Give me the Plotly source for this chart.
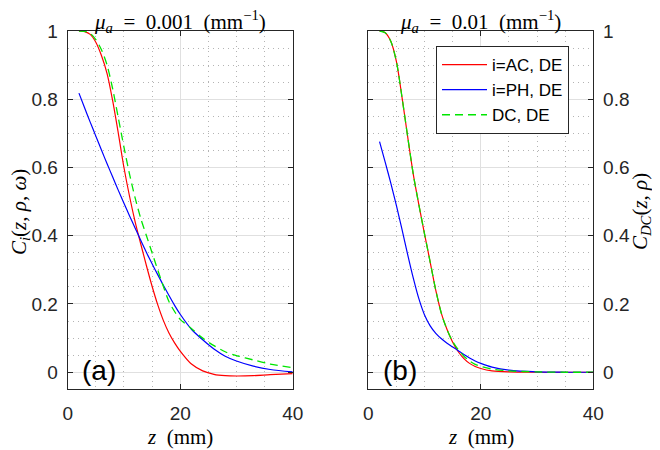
import plotly.graph_objects as go

# depth z (mm) and normalised contrasts
# panel (a): mu_a = 0.001 mm^-1
z_a = [2, 3, 4, 5, 6, 7, 8, 9, 10, 11, 12, 13, 14, 15, 16, 17, 18, 19, 20,
       22, 24, 26, 28, 30, 33, 36, 40]
ac_a = [1.0, 0.998, 0.990, 0.967, 0.928, 0.875, 0.795, 0.700, 0.600, 0.515,
        0.440, 0.375, 0.312, 0.252, 0.198, 0.152, 0.115, 0.086, 0.062,
        0.024, 0.004, -0.006, -0.010, -0.011, -0.010, -0.007, -0.004]
ph_a = [0.818, 0.775, 0.733, 0.692, 0.651, 0.611, 0.572, 0.533, 0.495, 0.458,
        0.422, 0.386, 0.351, 0.318, 0.286, 0.255, 0.225, 0.196, 0.170,
        0.126, 0.095, 0.068, 0.047, 0.033, 0.018, 0.008, 0.001]
dc_a = [1.0, 0.999, 0.993, 0.975, 0.945, 0.900, 0.830, 0.745, 0.660, 0.580,
        0.510, 0.450, 0.400, 0.350, 0.300, 0.252, 0.207, 0.178, 0.155,
        0.128, 0.100, 0.078, 0.060, 0.049, 0.036, 0.024, 0.013]

# panel (b): mu_a = 0.01 mm^-1
z_b = [2, 3, 4, 5, 6, 7, 8, 9, 10, 11, 12, 13, 14, 15, 16, 17, 18, 19, 20,
       22, 25, 30, 35, 40]
ac_b = [1.0, 0.995, 0.970, 0.910, 0.805, 0.690, 0.580, 0.490, 0.405, 0.323,
        0.240, 0.172, 0.125, 0.088, 0.060, 0.040, 0.026, 0.017, 0.011,
        0.004, 0.001, 0.0, 0.0, 0.0]
ph_b = [0.676, 0.616, 0.554, 0.488, 0.418, 0.345, 0.276, 0.215, 0.168, 0.136,
        0.114, 0.098, 0.085, 0.074, 0.063, 0.052, 0.042, 0.033, 0.026,
        0.015, 0.006, 0.001, 0.0, 0.0]
dc_b = [1.0, 0.995, 0.970, 0.910, 0.805, 0.690, 0.580, 0.490, 0.405, 0.323,
        0.240, 0.172, 0.125, 0.090, 0.066, 0.047, 0.033, 0.023, 0.017,
        0.009, 0.004, 0.001, 0.0, 0.0]

names = ["i=AC, DE", "i=PH, DE", "DC, DE"]
x_ticks = [0, 20, 40]
y_ticks = [0, 0.2, 0.4, 0.6, 0.8, 1]
y_tick_text = ["0", "0.2", "0.4", "0.6", "0.8", "1"]

# the page body has an 8px default margin, so the figure is drawn 8px in
OFF = 8
W, H = 660 - OFF, 450 - OFF
SANS = "Liberation Sans, Arial, sans-serif"
SERIF = "Liberation Serif, Times New Roman, serif"
AX = "#262626"
SP = "\u2002"


def fx(px):
    return (px - OFF) / W


def fy(py):
    return 1 - (py - OFF) / H


fig = go.Figure()

styles = [
    dict(color="#ff0000", width=1.2),
    dict(color="#0000ff", width=1.2),
    dict(color="#00e600", width=1.3, dash="8px,5px"),
]

for xa, ya, z, series, show in [("x", "y", z_a, [ac_a, ph_a, dc_a], False),
                                ("x2", "y2", z_b, [ac_b, ph_b, dc_b], True)]:
    for name, vals, st in zip(names, series, styles):
        fig.add_trace(go.Scatter(
            x=z, y=vals, mode="lines", name=name, xaxis=xa, yaxis=ya,
            line=dict(shape="spline", smoothing=0.8, **st),
            showlegend=show,
        ))


def xax(domain, anchor):
    return dict(
        domain=domain, anchor=anchor, range=[0, 40], automargin=False,
        tickvals=x_ticks, ticks="inside", ticklen=5, tickcolor=AX,
        showline=True, linecolor=AX, linewidth=1, mirror="ticks",
        showgrid=True, gridcolor="#e0e0e0", zeroline=False,
        minor=dict(dtick=5, tick0=0, showgrid=True, gridcolor="#b4b4b4",
                   griddash="1px,4px", gridwidth=1),
        tickfont=dict(family=SANS, size=19, color=AX),
        ticklabelstandoff=7,
    )


def yax(anchor, side):
    return dict(
        domain=[fy(389.3), fy(31)], anchor=anchor, side=side,
        range=[-0.05, 1], tickvals=y_ticks, ticktext=y_tick_text,
        automargin=False,
        ticks="inside", ticklen=5, tickcolor=AX,
        showline=True, linecolor=AX, linewidth=1, mirror="ticks",
        showgrid=True, gridcolor="#e0e0e0", zeroline=False,
        minor=dict(dtick=0.05, tick0=0, showgrid=True, gridcolor="#b4b4b4",
                   griddash="1px,4px", gridwidth=1),
        tickfont=dict(family=SANS, size=19, color=AX),
        ticklabelstandoff=5,
    )


fig.update_layout(
    width=W, height=H,
    margin=dict(l=0, r=0, t=0, b=0),
    paper_bgcolor="white", plot_bgcolor="white",
    xaxis=xax([fx(67.7), fx(292.7)], "y"),
    yaxis=yax("x", "left"),
    xaxis2=xax([fx(368.3), fx(593.3)], "y2"),
    yaxis2=yax("x2", "right"),
    legend=dict(
        x=fx(436), y=fy(46), xanchor="left", yanchor="top",
        bgcolor="white", bordercolor=AX, borderwidth=1,
        itemwidth=45,
        font=dict(family=SANS, size=17, color="black"),
    ),
)

notes = [
    (f"<i>μ</i><sub><i>a</i></sub>{SP}={SP}0.001{SP}(mm<sup>−1</sup>)", 180.2, 21, 0, 21),
    (f"<i>μ</i><sub><i>a</i></sub>{SP}={SP}0.01{SP}(mm<sup>−1</sup>)", 480.8, 21, 0, 21),
    (f"<i>z</i>{SP}(mm)", 180.2, 437, 0, 21),
    (f"<i>z</i>{SP}(mm)", 480.8, 437, 0, 21),
    ("<i>C<sub>i</sub></i>(<i>z</i>, <i>ρ</i>, <i>ω</i>)", 20, 212, -90, 21),
    ("<i>C</i><sub><i>DC</i></sub>(<i>z</i>, <i>ρ</i>)", 641, 212, -90, 21),
]
for text, px, py, ang, size in notes:
    fig.add_annotation(
        text=text, x=fx(px), y=fy(py), xref="paper", yref="paper",
        showarrow=False, textangle=ang, xanchor="center", yanchor="middle",
        font=dict(family=SERIF, size=size, color="black"),
    )

for text, px in [("(a)", 99), ("(b)", 399.7)]:
    fig.add_annotation(
        text=text, x=fx(px), y=fy(370), xref="paper", yref="paper",
        showarrow=False, xanchor="center", yanchor="middle",
        font=dict(family=SANS, size=28, color="black"),
    )

fig.write_html("out.html")
